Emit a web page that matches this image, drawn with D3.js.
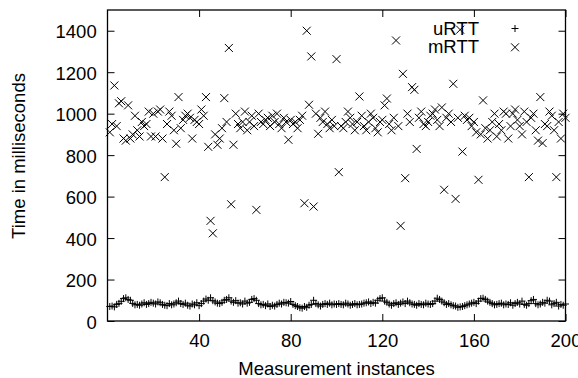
<!DOCTYPE html>
<html>
<head>
<meta charset="utf-8">
<script src="https://cdn.jsdelivr.net/npm/d3@7/dist/d3.min.js"></script>
<style>
  body { margin: 0; background: #fff; }
  text { font-family: "Liberation Sans", Arial, sans-serif; fill: #000; font-size: 18.5px; }
</style>
</head>
<body>
<svg id="chart" width="578" height="378"></svg>
<script>
// tick labels
const xTicks = [40, 80, 120, 160, 200];
const yTicks = [0, 200, 400, 600, 800, 1000, 1200, 1400];

const uRTT = [
  70, 72, 68, 80, 85, 95, 108, 112, 104, 100, 85, 78, 80, 76, 82, 88, 80, 84, 90, 86,
  82, 92, 88, 80, 76, 74, 84, 78, 82, 88, 96, 84, 80, 86, 76, 72, 82, 78, 88, 74,
  84, 96, 106, 100, 112, 98, 92, 86, 84, 90, 100, 104, 112, 96, 90, 98, 86, 88, 82, 96,
  86, 90, 104, 108, 100, 84, 78, 80, 74, 82, 70, 76, 72, 80, 86, 82, 90, 88, 86, 94,
  80, 74, 70, 64, 62, 70, 66, 76, 80, 100, 84, 78, 72, 80, 84, 80, 86, 78, 82, 80,
  84, 80, 78, 86, 82, 76, 80, 84, 78, 80, 82, 86, 88, 92, 84, 90, 86, 100, 108, 112,
  96, 90, 82, 76, 84, 88, 80, 86, 92, 84, 96, 88, 82, 80, 76, 84, 80, 78, 86, 82,
  80, 84, 96, 110, 104, 96, 88, 80, 84, 78, 74, 72, 66, 68, 70, 74, 78, 82, 86, 90,
  84, 96, 108, 110, 104, 96, 90, 84, 78, 80, 84, 86, 78, 82, 80, 88, 76, 84, 90, 82,
  96, 80, 76, 84, 98, 104, 84, 78, 82, 90, 86, 100, 96, 78, 84, 90, 72, 80, 76, 82
];
const mRTT = [
  910, 950, 1136, 940, 1050, 1060, 880, 870, 1040, 880, 900, 990, 920, 890, 960, 940, 950, 1010, 890, 1000,
  890, 1010, 1020, 880, 694, 950, 1010, 990, 920, 855, 1080, 930, 970, 990, 1000, 980, 880, 970, 960, 950,
  1020, 990, 1080, 840, 483, 423, 900, 850, 880, 930, 1075, 960, 1317, 563, 850, 1000, 950, 930, 960, 1010,
  920, 960, 990, 940, 536, 1000, 960, 950, 970, 980, 940, 990, 960, 1000, 950, 930, 980, 960, 874, 970,
  950, 960, 930, 970, 990, 568, 1400, 1043, 1276, 552, 1000, 903, 980, 960, 1010, 950, 930, 970, 940, 1263,
  718, 940, 930, 960, 1010, 980, 950, 920, 960, 1083, 990, 940, 920, 960, 1000, 980, 930, 910, 960, 970,
  1040, 1073, 950, 920, 980, 1353, 940, 459, 1192, 689, 1000, 960, 1128, 1115, 830, 980, 1010, 950, 940, 960,
  990, 1000, 1020, 970, 940, 1030, 633, 980, 1000, 960, 1144, 589, 980, 1405, 817, 990, 970, 980, 940, 960,
  910, 681, 900, 1064, 930, 880, 920, 960, 1000, 890, 950, 920, 1010, 1000, 880, 940, 1000, 1020, 970, 940,
  900, 1010, 960, 694, 980, 1000, 920, 870, 1080, 858, 950, 940, 1010, 990, 920, 694, 960, 880, 1000, 980
];
const seriesNames = ["uRTT", "mRTT"];

const W = 578, H = 378;
const margin = { top: 10, right: 12.5, bottom: 57, left: 107.5 };
const width = W - margin.left - margin.right;
const height = H - margin.top - margin.bottom;
const tickLen = 7;

// marker shapes (gnuplot point types 1 and 2)
const plusPath = "M-3.5,0H3.5M0,-3.5V3.5";
const crossPath = "M-4,-4L4,4M-4,4L4,-4";

const svg = d3.select("#chart");
const g = svg.append("g").attr("transform", `translate(${margin.left},${margin.top})`);

const xScale = d3.scaleLinear().domain([0, 200]).range([0, width]);
const yScale = d3.scaleLinear().domain([0, 1500]).range([height, 0]);

// axes, ticks pointing inward like gnuplot
const xAxis = d3.axisBottom(xScale).tickValues(xTicks).tickSize(-tickLen).tickFormat(d3.format("d"));
const yAxis = d3.axisLeft(yScale).tickValues(yTicks).tickSize(-tickLen).tickFormat(d3.format("d"));

const gx = g.append("g").attr("transform", `translate(0,${height})`).call(xAxis);
gx.selectAll("text").attr("y", 26).attr("dy", null);

const gy = g.append("g").call(yAxis);
gy.selectAll("text").attr("x", -10.8).attr("dy", null).attr("y", 7);

// mirrored ticks, no labels
g.append("g").call(d3.axisTop(xScale).tickValues(xTicks).tickSize(-tickLen).tickFormat(""));
g.append("g").attr("transform", `translate(${width},0)`)
  .call(d3.axisRight(yScale).tickValues(yTicks).tickSize(-tickLen).tickFormat(""));

g.selectAll(".domain").remove();
g.selectAll(".tick line").attr("stroke", "#000").attr("stroke-width", 1);
g.selectAll(".tick text").attr("font-size", null).attr("font-family", null);

g.append("rect")
  .attr("width", width)
  .attr("height", height)
  .attr("fill", "none")
  .attr("stroke", "#000")
  .attr("stroke-width", 1.3);

// points
const toPoints = (arr) => arr.map((v, i) => ({ x: i + 1, y: v }));

g.append("g").selectAll("path")
  .data(toPoints(uRTT))
  .join("path")
  .attr("d", plusPath)
  .attr("transform", (d) => `translate(${xScale(d.x)},${yScale(d.y)})`)
  .attr("stroke", "#000")
  .attr("stroke-width", 1)
  .attr("fill", "none");

g.append("g").selectAll("path")
  .data(toPoints(mRTT))
  .join("path")
  .attr("d", crossPath)
  .attr("transform", (d) => `translate(${xScale(d.x)},${yScale(d.y)})`)
  .attr("stroke", "#000")
  .attr("stroke-width", 1)
  .attr("fill", "none");

// key
const key = g.append("g").attr("transform", "translate(371.5,0)");
seriesNames.forEach((name, i) => {
  key.append("text")
    .attr("x", 0)
    .attr("y", 25 + i * 17.7)
    .attr("text-anchor", "end")
    .text(name);
  key.append("path")
    .attr("d", i === 0 ? plusPath : crossPath)
    .attr("transform", `translate(36,${18.5 + i * 18.8})`)
    .attr("stroke", "#000")
    .attr("fill", "none");
});

// axis titles
svg.append("text")
  .attr("x", margin.left + width / 2)
  .attr("y", 375)
  .attr("text-anchor", "middle")
  .text("Measurement instances");

svg.append("text")
  .attr("transform", `translate(25,156) rotate(-90)`)
  .attr("text-anchor", "middle")
  .text("Time in milliseconds");
</script>
</body>
</html>
